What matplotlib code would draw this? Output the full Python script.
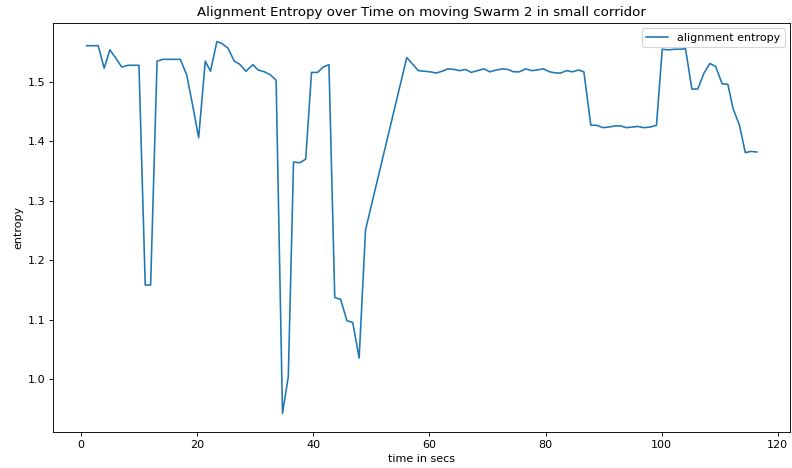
import matplotlib
matplotlib.use("Agg")
import matplotlib.pyplot as plt

# Sample times (s) and the alignment entropy of the swarm at each sample.
time_secs = [
    0.96, 1.96, 2.96, 3.99, 4.97, 5.92, 7.02, 8.10, 9.04, 9.98,
    11.06, 11.99, 13.10, 14.10, 15.1, 16.1, 17.1, 18.2, 19.2, 20.26,
    21.4, 22.3, 23.4, 24.2, 25.3, 26.4, 27.3, 28.4, 29.6, 30.5,
    31.6, 32.6, 33.6, 34.7, 35.7, 36.6, 37.7, 38.7, 39.7, 40.75,
    41.7, 42.7, 43.7, 44.7, 45.8, 46.8, 47.9, 49.0, 56.1, 58.1,
    59.1, 60.1, 61.2, 62.2, 63.2, 64.3, 65.2, 66.2, 67.2, 68.3,
    69.4, 70.4, 71.5, 72.6, 73.5, 74.5, 75.5, 76.6, 77.6, 78.5,
    79.6, 80.7, 81.8, 82.6, 83.6, 84.6, 85.7, 86.6, 87.8, 88.8,
    89.9, 90.9, 92.0, 92.9, 93.9, 94.9, 95.9, 96.9, 98.0, 99.1,
    100.1, 101.2, 102.2, 103.2, 104.1, 105.2, 106.2, 107.3, 108.3, 109.3,
    110.4, 111.4, 112.3, 113.4, 114.4, 115.4, 116.4,
]
alignment_entropy = [
    1.561, 1.561, 1.561, 1.523, 1.554, 1.541, 1.525, 1.528, 1.528, 1.528,
    1.158, 1.158, 1.535, 1.538, 1.538, 1.538, 1.538, 1.512, 1.462, 1.406,
    1.535, 1.518, 1.568, 1.565, 1.557, 1.535, 1.530, 1.518, 1.529, 1.520,
    1.517, 1.512, 1.503, 0.942, 1.004, 1.365, 1.364, 1.370, 1.516, 1.516,
    1.525, 1.529, 1.137, 1.134, 1.098, 1.095, 1.035, 1.251, 1.541, 1.519,
    1.518, 1.517, 1.515, 1.518, 1.522, 1.521, 1.519, 1.521, 1.516, 1.519,
    1.522, 1.517, 1.520, 1.522, 1.521, 1.517, 1.517, 1.522, 1.519, 1.520,
    1.522, 1.517, 1.515, 1.515, 1.519, 1.517, 1.520, 1.517, 1.427, 1.427,
    1.423, 1.424, 1.426, 1.426, 1.423, 1.424, 1.425, 1.423, 1.424, 1.427,
    1.555, 1.554, 1.555, 1.555, 1.556, 1.488, 1.488, 1.515, 1.531, 1.526,
    1.497, 1.496, 1.455, 1.427, 1.381, 1.383, 1.382,
]

# drawn at 80 dpi so text and lines come out a little smaller
fig = plt.figure(figsize=(9.9, 5.85), dpi=80)
ax = fig.add_axes([0.067, 0.077, 0.931, 0.874])

ax.plot(time_secs, alignment_entropy, color="#1f77b4", linewidth=1.45,
        label="alignment entropy")

ax.set_title("Alignment Entropy over Time on moving Swarm 2 in small corridor")
ax.set_xlabel("time in secs")
ax.set_ylabel("entropy")
ax.legend(loc="upper right")

fig.savefig("out.png", dpi=80)
